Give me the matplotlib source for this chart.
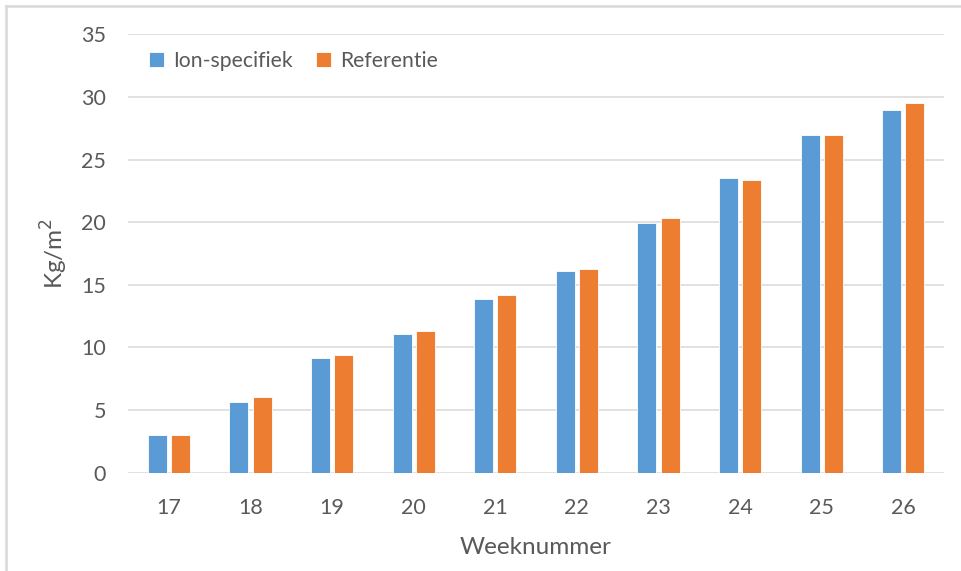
import numpy as np
import matplotlib.pyplot as plt
from matplotlib.lines import Line2D

plt.rcParams['font.family'] = ['Lato', 'DejaVu Sans']

# Weekly yield per treatment
weeks = ['17', '18', '19', '20', '21', '22', '23', '24', '25', '26']
ion_specifiek = [3.0, 5.6, 9.15, 11.1, 13.85, 16.1, 19.9, 23.55, 27.0, 29.0]
referentie = [3.0, 6.0, 9.35, 11.3, 14.15, 16.25, 20.3, 23.4, 27.0, 29.5]
y_ticks = [0, 5, 10, 15, 20, 25, 30, 35]

blue = '#5B9BD5'
orange = '#ED7D31'
text_grey = '#595959'
grid_grey = '#D9D9D9'

fig = plt.figure(figsize=(9.62, 5.71), dpi=100)
ax = fig.add_axes([0.1331, 0.1725, 0.8482, 0.7671])

x = np.arange(len(weeks))
w = 0.233
off = 0.142
ax.bar(x - off, ion_specifiek, w, color=blue, edgecolor='white', linewidth=0.6,
       label='Ion-specifiek', zorder=3)
ax.bar(x + off, referentie, w, color=orange, edgecolor='white', linewidth=0.6,
       label='Referentie', zorder=3)

ax.set_xlim(-0.5, len(weeks) - 0.5)
ax.set_ylim(0, 35)
ax.set_yticks(y_ticks)
ax.set_xticks(x)
ax.set_xticklabels(weeks)
ax.yaxis.grid(True, color=grid_grey, linewidth=1.1, zorder=0)
ax.set_axisbelow(True)
for s in ax.spines.values():
    s.set_visible(False)
ax.tick_params(axis='both', length=0, labelsize=15.5, colors=text_grey)
ax.tick_params(axis='y', pad=16)
ax.tick_params(axis='x', pad=18)

ax.set_xlabel('Weeknummer', fontsize=17.5, color=text_grey, labelpad=14)
ax.set_ylabel('Kg/m$^2$', fontsize=17.5, color=text_grey, labelpad=8)

ax.legend(loc='upper left', bbox_to_anchor=(0.0, 1.01), ncol=2, frameon=False,
          fontsize=15.2, labelcolor=text_grey, handlelength=0.7, handleheight=0.7,
          handletextpad=0.45, columnspacing=1.1, borderaxespad=0.6)

# chart frame: top and left edges only
fig.add_artist(Line2D([0.0062, 1.0], [0.9895, 0.9895], transform=fig.transFigure,
                      color=grid_grey, linewidth=1.8))
fig.add_artist(Line2D([0.0062, 0.0062], [0.0, 0.9895], transform=fig.transFigure,
                      color=grid_grey, linewidth=1.8))

fig.savefig('out.png', dpi=100)
